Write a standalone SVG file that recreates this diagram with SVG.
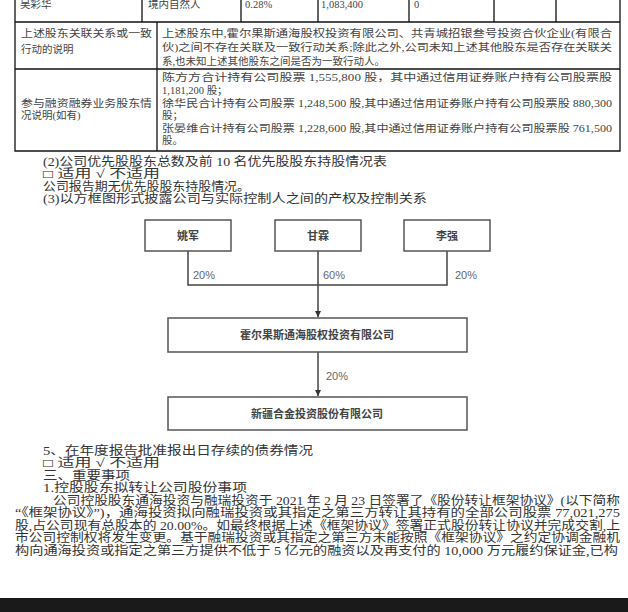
<svg xmlns="http://www.w3.org/2000/svg" width="628" height="612" viewBox="0 0 628 612">
<defs>
<style>
.t{font-family:"Liberation Serif","Noto Sans CJK SC",serif;font-size:10.5px;fill:#444}
.m{font-family:"Liberation Serif","Noto Sans CJK SC",serif;font-size:12px;fill:#333}
.tb{stroke:#111;stroke-width:1.3;fill:none}
.box{fill:#fff;stroke:#555;stroke-width:1.5}
.bt{font-family:"Noto Sans CJK SC",sans-serif;font-size:11px;font-weight:bold;fill:#444;text-anchor:middle}
.pc{font-family:"Liberation Sans",sans-serif;font-size:11px;fill:#666}
.ln{stroke:#444;stroke-width:1.5;fill:none}
</style>
<marker id="ah" viewBox="0 0 10 10" refX="10" refY="5" markerWidth="6" markerHeight="6" markerUnits="userSpaceOnUse" orient="auto"><path d="M0,0 L10,5 L0,10 z" fill="#333"/></marker>
</defs>
<rect width="628" height="612" fill="#fff"/>

<g id="table">
<path class="tb" d="M15,0V151H620V0M15,22H620M15,69H620M142,0V22M241,0V22M318,0V22M409,0V22M494,0V22M556,0V22M157,22V151"/>
<text class="t" x="20" y="8">吴彩华</text>
<text class="t" x="148" y="8">境内自然人</text>
<text class="t" x="245" y="8">0.28%</text>
<text class="t" x="321" y="8">1,083,400</text>
<text class="t" x="414" y="8">0</text>
<text class="t" x="21" y="37" textLength="131" lengthAdjust="spacingAndGlyphs">上述股东关联关系或一致</text>
<text class="t" x="21" y="53">行动的说明</text>
<text class="t" x="162" y="37" textLength="450" lengthAdjust="spacingAndGlyphs">上述股东中,霍尔果斯通海股权投资有限公司、共青城招银叁号投资合伙企业(有限合</text>
<text class="t" x="162" y="51" textLength="450" lengthAdjust="spacingAndGlyphs">伙)之间不存在关联及一致行动关系;除此之外,公司未知上述其他股东是否存在关联关</text>
<text class="t" x="162" y="65">系,也未知上述其他股东之间是否为一致行动人。</text>
<text class="t" x="21" y="107" textLength="131" lengthAdjust="spacingAndGlyphs">参与融资融券业务股东情</text>
<text class="t" x="21" y="119">况说明(如有)</text>
<text class="t" x="162" y="81" textLength="450" lengthAdjust="spacingAndGlyphs">陈方方合计持有公司股票 1,555,800 股，其中通过信用证券账户持有公司股票股</text>
<text class="t" x="162" y="94">1,181,200 股；</text>
<text class="t" x="162" y="107" textLength="450" lengthAdjust="spacingAndGlyphs">徐华民合计持有公司股票 1,248,500 股,其中通过信用证券账户持有公司股票股 880,300</text>
<text class="t" x="162" y="119">股；</text>
<text class="t" x="162" y="132" textLength="450" lengthAdjust="spacingAndGlyphs">张晏维合计持有公司股票 1,228,600 股,其中通过信用证券账户持有公司股票股 761,500</text>
<text class="t" x="162" y="144">股。</text>
</g>

<g id="text-top">
<text class="m" x="43" y="166" textLength="344" lengthAdjust="spacingAndGlyphs">(2)公司优先股股东总数及前 10 名优先股股东持股情况表</text>
<text class="m" x="43" y="178" textLength="117" lengthAdjust="spacingAndGlyphs">□ 适用 √ 不适用</text>
<text class="m" x="43" y="191" textLength="207" lengthAdjust="spacingAndGlyphs">公司报告期无优先股股东持股情况。</text>
<text class="m" x="43" y="203" textLength="384" lengthAdjust="spacingAndGlyphs">(3)以方框图形式披露公司与实际控制人之间的产权及控制关系</text>
</g>

<g id="connectors">
<path class="ln" d="M188,251V285H447V251M318,251V285"/>
<path class="ln" d="M318,285V317" marker-end="url(#ah)"/>
<path class="ln" d="M318,352V396" marker-end="url(#ah)"/>
<text class="pc" x="193" y="279">20%</text>
<text class="pc" x="323" y="279">60%</text>
<text class="pc" x="455" y="279">20%</text>
<text class="pc" x="326" y="380">20%</text>
</g>

<g id="node-yaojun"><rect class="box" x="145" y="220" width="86" height="31"/><text class="bt" x="188" y="240">姚军</text></g>
<g id="node-ganlin"><rect class="box" x="275" y="220" width="86" height="31"/><text class="bt" x="318" y="240">甘霖</text></g>
<g id="node-liqiang"><rect class="box" x="404" y="220" width="86" height="31"/><text class="bt" x="447" y="240">李强</text></g>
<g id="node-huoerguosi"><rect class="box" x="168" y="318" width="299" height="34"/><text class="bt" x="317" y="339">霍尔果斯通海股权投资有限公司</text></g>
<g id="node-xinjiang"><rect class="box" x="168" y="397" width="299" height="33"/><text class="bt" x="317" y="418">新疆合金投资股份有限公司</text></g>

<g id="text-bottom">
<text class="m" x="43" y="455" textLength="270" lengthAdjust="spacingAndGlyphs">5、在年度报告批准报出日存续的债券情况</text>
<text class="m" x="43" y="467" textLength="117" lengthAdjust="spacingAndGlyphs">□ 适用 √ 不适用</text>
<text class="m" x="43" y="480" textLength="87" lengthAdjust="spacingAndGlyphs">三、重要事项</text>
<text class="m" x="43" y="492" textLength="204" lengthAdjust="spacingAndGlyphs">1.控股股东拟转让公司股份事项</text>
<text class="m" x="53" y="505" textLength="567" lengthAdjust="spacingAndGlyphs">公司控股股东通海投资与融瑞投资于 2021 年 2 月 23 日签署了《股份转让框架协议》(以下简称</text>
<text class="m" x="15" y="517" textLength="605" lengthAdjust="spacingAndGlyphs">“《框架协议》”)，通海投资拟向融瑞投资或其指定之第三方转让其持有的全部公司股票 77,021,275</text>
<text class="m" x="15" y="530" textLength="605" lengthAdjust="spacingAndGlyphs">股,占公司现有总股本的 20.00%。如最终根据上述《框架协议》签署正式股份转让协议并完成交割,上</text>
<text class="m" x="15" y="542" textLength="605" lengthAdjust="spacingAndGlyphs">市公司控制权将发生变更。基于融瑞投资或其指定之第三方未能按照《框架协议》之约定协调金融机</text>
<text class="m" x="15" y="555" textLength="603" lengthAdjust="spacingAndGlyphs">构向通海投资或指定之第三方提供不低于 5 亿元的融资以及再支付的 10,000 万元履约保证金,已构</text>
</g>

<rect id="bottom-bar" x="0" y="598" width="628" height="14" fill="#1a1a1a"/>
</svg>
